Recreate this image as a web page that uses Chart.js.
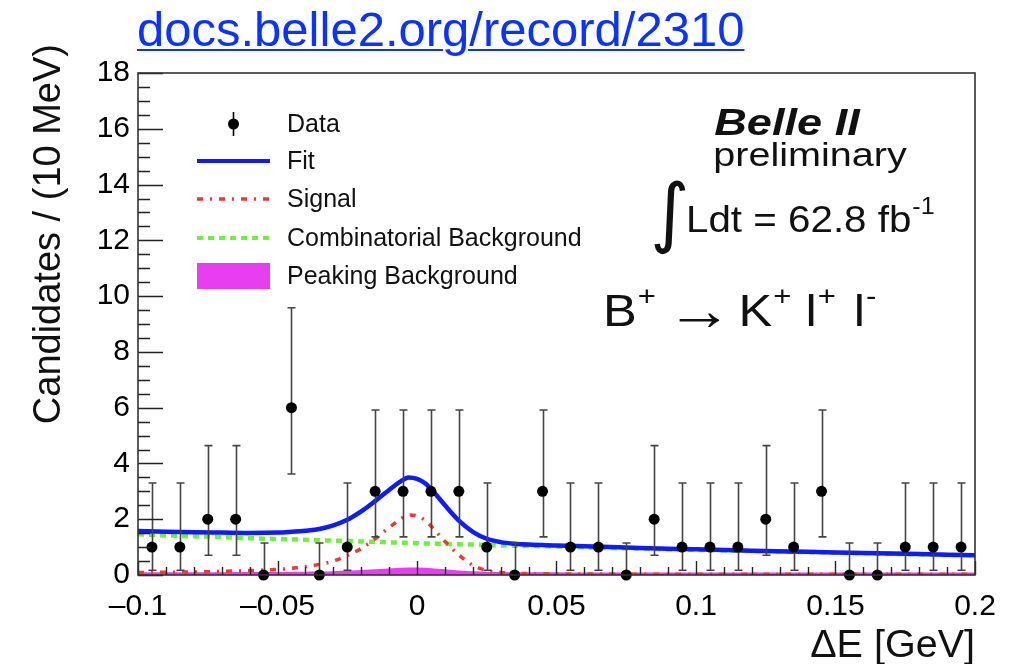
<!DOCTYPE html>
<html>
<head>
<meta charset="utf-8">
<script src="https://cdn.jsdelivr.net/npm/chart.js@4.4.1/dist/chart.umd.min.js"></script>
<style>
  html, body { margin: 0; padding: 0; background: #fff; }
  #wrap { position: relative; width: 1026px; height: 664px; }
  #link {
    position: absolute; left: 137px; top: 5px;
    font: 49px "Liberation Sans", Arial, sans-serif; line-height: 49px;
    color: #0b33ff; text-decoration: underline; text-underline-offset: 3px;
    text-decoration-thickness: 2px; white-space: nowrap;
  }
</style>
</head>
<body>
<div id="wrap">
  <canvas id="c" width="1026" height="664"></canvas>
  <a id="link">docs.belle2.org/record/2310</a>
</div>
<script>
console.log("belle2 dE plot");

// ---- data (10 MeV bins) ----
const binCenters = [-0.095, -0.085, -0.075, -0.065, -0.055, -0.045, -0.035, -0.025, -0.015, -0.005,
                     0.005,  0.015,  0.025,  0.035,  0.045,  0.055,  0.065,  0.075,  0.085,  0.095,
                     0.105,  0.115,  0.125,  0.135,  0.145,  0.155,  0.165,  0.175,  0.185,  0.195];
const counts = [1, 1, 2, 2, 0, 6, 0, 1, 3, 3,
                3, 3, 1, 0, 3, 1, 1, 0, 2, 1,
                1, 1, 2, 1, 3, 0, 0, 1, 1, 1];
// poisson interval (RooFit style), index = count
const poissonLow  = [0, 0.173, 0.708, 1.367, 2.086, 2.840, 3.620];
const poissonHigh = [1.148, 3.300, 4.638, 5.918, 7.163, 8.382, 9.584];

// ---- fitted curves ----
const curveX = [-0.1, -0.09, -0.08, -0.07, -0.06, -0.05, -0.045, -0.04, -0.035, -0.03, -0.025, -0.02,
                -0.015, -0.01, -0.006, -0.003, 0, 0.003, 0.006, 0.01, 0.015, 0.02, 0.025, 0.03,
                0.035, 0.04, 0.05, 0.06, 0.08, 0.1, 0.12, 0.14, 0.16, 0.18, 0.2];
const fitY = [1.58, 1.55, 1.53, 1.52, 1.51, 1.52, 1.55, 1.59, 1.65, 1.78, 1.98, 2.28,
              2.65, 3.05, 3.35, 3.50, 3.45, 3.28, 2.98, 2.50, 1.95, 1.55, 1.30, 1.18,
              1.12, 1.09, 1.06, 1.03, 0.97, 0.92, 0.87, 0.83, 0.79, 0.75, 0.71];
const signalY = [0.09, 0.10, 0.11, 0.13, 0.16, 0.20, 0.24, 0.30, 0.38, 0.50, 0.70, 0.95,
                 1.30, 1.70, 2.00, 2.15, 2.12, 1.95, 1.65, 1.20, 0.72, 0.35, 0.16, 0.09,
                 0.06, 0.05, 0.04, 0.035, 0.03, 0.03, 0.03, 0.03, 0.03, 0.03, 0.03];
const combY = [1.46, 1.42, 1.39, 1.36, 1.32, 1.29, 1.28, 1.26, 1.25, 1.23, 1.22, 1.20,
               1.19, 1.17, 1.16, 1.15, 1.14, 1.13, 1.13, 1.12, 1.10, 1.09, 1.08, 1.06,
               1.05, 1.04, 1.02, 0.99, 0.94, 0.90, 0.86, 0.82, 0.78, 0.74, 0.70];
const peakingY = [0.06, 0.06, 0.06, 0.065, 0.07, 0.075, 0.08, 0.085, 0.09, 0.10, 0.12, 0.14,
                  0.17, 0.20, 0.22, 0.23, 0.23, 0.22, 0.20, 0.17, 0.13, 0.10, 0.08, 0.07,
                  0.065, 0.06, 0.06, 0.055, 0.055, 0.055, 0.055, 0.055, 0.055, 0.055, 0.055];

const xTickStep = 0.05;
const yTickStep = 2;

const FONT = '"Liberation Sans", Arial, sans-serif';
const BLUE = "#0f1cf5";
const RED = "#f2382e";
const GREEN = "#6cf23a";
const MAGENTA = "#e83df0";

const pts = (ys) => curveX.map((x, i) => ({ x, y: ys[i] }));

// text drawn with a horizontal stretch, like the original ROOT output
function stretchText(ctx, t, x, y, sx, align) {
  ctx.save();
  ctx.translate(x, y);
  ctx.scale(sx, 1);
  ctx.textAlign = align;
  ctx.fillText(t, 0, 0);
  ctx.restore();
  return ctx.measureText(t).width * sx;
}

/* error bars, drawn right before the data markers */
const errorBars = {
  id: "errorBars",
  afterDatasetDraw(chart, args) {
    if (args.index !== 1) return; // after the fit curve
    const { ctx, scales: { x, y } } = chart;
    ctx.save();
    ctx.strokeStyle = "#444";
    ctx.lineWidth = 1.6;
    binCenters.forEach((bc, i) => {
      const n = counts[i];
      const px = Math.round(x.getPixelForValue(bc)) + 0.5;
      const y1 = y.getPixelForValue(poissonHigh[n]);
      const y0 = y.getPixelForValue(poissonLow[n]);
      ctx.beginPath();
      ctx.moveTo(px, y1); ctx.lineTo(px, y0);
      ctx.moveTo(px - 4, y1); ctx.lineTo(px + 4, y1);
      if (n > 0) { ctx.moveTo(px - 4, y0); ctx.lineTo(px + 4, y0); }
      ctx.stroke();
    });
    ctx.restore();
  }
};

/* ROOT-like frame with inward ticks, legend and labels */
const decorations = {
  id: "decorations",
  afterDraw(chart) {
    const { ctx, chartArea: a, scales: { x, y } } = chart;
    ctx.save();

    // ticks
    ctx.strokeStyle = "#222";
    ctx.lineWidth = 1.4;
    ctx.beginPath();
    for (let i = 0; i <= 36; i++) {
      const py = Math.round(y.getPixelForValue(i * 0.5)) + 0.5;
      const len = i % 4 === 0 ? 25 : 12;
      ctx.moveTo(a.left, py); ctx.lineTo(a.left + len, py);
    }
    for (let i = 0; i <= 30; i++) {
      const px = Math.round(x.getPixelForValue(-0.1 + i * 0.01)) + 0.5;
      const len = i % 5 === 0 ? 14 : 8;
      ctx.moveTo(px, a.bottom); ctx.lineTo(px, a.bottom - len);
    }
    ctx.stroke();
    ctx.lineWidth = 1.6;
    ctx.strokeStyle = "#333";
    ctx.strokeRect(a.left, a.top, a.right - a.left, a.bottom - a.top);

    // legend
    const lx0 = 197, lx1 = 270, tx = 287;
    const rows = [124, 161, 199, 238, 276];
    ctx.fillStyle = "#000";
    ctx.strokeStyle = "#000";
    ctx.lineWidth = 1.6;
    ctx.beginPath(); ctx.moveTo(233.5, rows[0] - 12); ctx.lineTo(233.5, rows[0] + 12); ctx.stroke();
    ctx.beginPath(); ctx.arc(233.5, rows[0], 5.5, 0, Math.PI * 2); ctx.fill();

    ctx.lineWidth = 4; ctx.strokeStyle = BLUE;
    ctx.beginPath(); ctx.moveTo(lx0, rows[1]); ctx.lineTo(lx1, rows[1]); ctx.stroke();
    ctx.lineWidth = 3.5; ctx.strokeStyle = RED; ctx.setLineDash([6, 7, 2, 7]);
    ctx.beginPath(); ctx.moveTo(lx0, rows[2]); ctx.lineTo(lx1, rows[2]); ctx.stroke();
    ctx.lineWidth = 4; ctx.strokeStyle = GREEN; ctx.setLineDash([6, 5]);
    ctx.beginPath(); ctx.moveTo(lx0, rows[3]); ctx.lineTo(lx1, rows[3]); ctx.stroke();
    ctx.setLineDash([]);
    ctx.fillStyle = MAGENTA;
    ctx.fillRect(lx0, rows[4] - 13, lx1 - lx0, 26);

    ctx.fillStyle = "#111";
    ctx.font = `25px ${FONT}`;
    ctx.textBaseline = "middle";
    ctx.textAlign = "left";
    ["Data", "Fit", "Signal", "Combinatorial Background", "Peaking Background"].forEach((t, i) => {
      ctx.fillText(t, tx, rows[i] + 1);
    });

    // experiment label
    ctx.textBaseline = "alphabetic";
    ctx.font = `italic bold 37px ${FONT}`;
    stretchText(ctx, "Belle II", 787, 135, 1.22, "center");
    ctx.font = `33px ${FONT}`;
    stretchText(ctx, "preliminary", 810, 166, 1.2, "center");

    ctx.textAlign = "left";
    ctx.font = `76px "DejaVu Sans"`;
    ctx.fillText("\u222B", 650, 238);
    ctx.font = `37px ${FONT}`;
    const w = stretchText(ctx, "Ldt = 62.8 fb", 686, 232, 1.09, "left");
    ctx.font = `23px ${FONT}`;
    stretchText(ctx, "-1", 686 + w + 1, 214, 1.09, "left");

    // decay B+ -> K+ l+ l-
    const runs = [["B", 0, 0], ["+", 1, 1], ["\u2192", 2, 10], ["K", 0, 6], ["+", 1, 1],
                  ["l", 0, 14], ["+", 1, 1], ["l", 0, 18], ["-", 1, 1]];
    let cx = 603;
    runs.forEach(([t, kind, gap]) => {
      cx += gap;
      ctx.font = kind === 1 ? `27px ${FONT}` : kind === 2 ? `58px ${FONT}` : `44px ${FONT}`;
      cx += stretchText(ctx, t, cx, kind === 1 ? 305 : kind === 2 ? 330 : 326, 1.15, "left");
    });

    // axis titles
    ctx.font = `38px ${FONT}`;
    stretchText(ctx, "\u0394E [GeV]", 975, 657, 1.04, "right");
    ctx.save();
    ctx.translate(60, 44);
    ctx.rotate(-Math.PI / 2);
    ctx.textAlign = "right";
    ctx.fillText("Candidates / (10 MeV)", 0, 0);
    ctx.restore();

    ctx.restore();
  }
};

const fmtTick = (v) => {
  const s = String(Number(v.toFixed(3)));
  return s.replace("-", "\u2013");
};

const chart = new Chart(document.getElementById("c"), {
  type: "scatter",
  data: {
    datasets: [
      {
        label: "Data",
        data: binCenters.map((x, i) => ({ x, y: counts[i] })),
        pointRadius: 5.5, pointHoverRadius: 5.5,
        backgroundColor: "#000", borderColor: "#000", borderWidth: 0,
        clip: false, order: 0
      },
      {
        label: "Fit", type: "line", data: pts(fitY),
        borderColor: BLUE, borderWidth: 4.5, pointRadius: 0,
        cubicInterpolationMode: "monotone", fill: false, order: 1
      },
      {
        label: "Signal", type: "line", data: pts(signalY),
        borderColor: RED, borderWidth: 3.5, borderDash: [6, 7, 2, 7], pointRadius: 0,
        cubicInterpolationMode: "monotone", fill: false, order: 2
      },
      {
        label: "Combinatorial Background", type: "line", data: pts(combY),
        borderColor: GREEN, borderWidth: 4.5, borderDash: [6, 5], pointRadius: 0,
        cubicInterpolationMode: "monotone", fill: false, order: 3
      },
      {
        label: "Peaking Background", type: "line", data: pts(peakingY),
        borderColor: MAGENTA, backgroundColor: MAGENTA, borderWidth: 2, pointRadius: 0,
        cubicInterpolationMode: "monotone", fill: "origin", order: 4
      }
    ]
  },
  options: {
    responsive: false,
    animation: false,
    layout: { padding: { left: 0, top: 73, right: 51, bottom: 0 } },
    plugins: { legend: { display: false }, tooltip: { enabled: false } },
    scales: {
      x: {
        type: "linear", min: -0.1, max: 0.2,
        grid: { display: false }, border: { display: false },
        ticks: {
          stepSize: xTickStep, color: "#000", padding: 6,
          font: { family: FONT, size: 30 }, maxRotation: 0,
          callback: fmtTick
        },
        afterFit(s) { s.height = 89; }
      },
      y: {
        type: "linear", min: 0, max: 18,
        grid: { display: false }, border: { display: false },
        ticks: {
          stepSize: yTickStep, color: "#000", padding: 0,
          font: { family: FONT, size: 30 },
          callback: (v) => String(v)
        },
        afterFit(s) { s.width = 138; }
      }
    }
  },
  plugins: [errorBars, decorations]
});
</script>
</body>
</html>
